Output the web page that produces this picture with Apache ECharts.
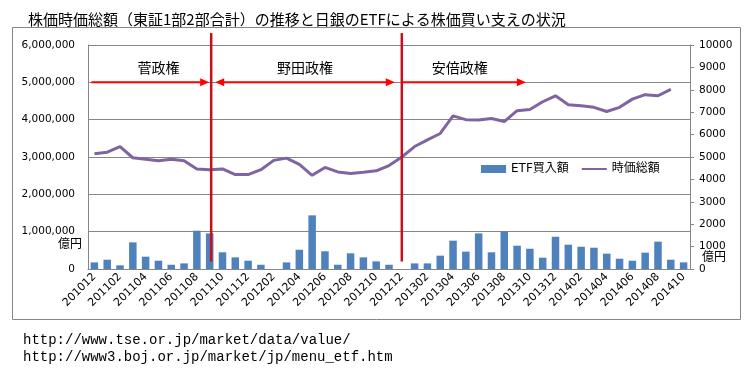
<!DOCTYPE html>
<html><head><meta charset="utf-8">
<script src="https://cdn.jsdelivr.net/npm/echarts/dist/echarts.min.js"></script>
<style>html,body{margin:0;padding:0;background:#fff}#c{width:749px;height:372px}</style>
</head><body><div id="c"></div>
<script>
const categories = ['201012','201101','201102','201103','201104','201105','201106','201107','201108','201109','201110','201111','201112',
  '201201','201202','201203','201204','201205','201206','201207','201208','201209','201210','201211','201212',
  '201301','201302','201303','201304','201305','201306','201307','201308','201309','201310','201311','201312',
  '201401','201402','201403','201404','201405','201406','201407','201408','201409','201410'];
// 時価総額 (億円, left axis)
const marketCap = [3090000,3130000,3280000,2980000,2940000,2900000,2940000,2900000,2680000,2660000,2680000,2530000,2530000,
  2660000,2910000,2970000,2800000,2510000,2720000,2600000,2560000,2590000,2630000,2770000,3000000,
  3280000,3460000,3630000,4100000,4000000,3990000,4030000,3950000,4240000,4270000,4480000,4640000,
  4400000,4370000,4330000,4220000,4330000,4550000,4670000,4640000,4810000,null];
// ETF買入額 (億円, right axis)
const etfBuy = [295,415,165,1190,550,370,190,250,1710,1590,745,520,370,
  190,0,295,860,2395,790,190,700,520,340,190,0,
  250,250,595,1265,775,1590,745,1680,1040,905,505,1440,
  1085,995,950,685,460,370,730,1220,415,295];
const leftTicks = {min:0, max:6000000, step:1000000};
const rightTicks = {min:0, max:10000, step:1000};
const eras = [
  {name:'菅政権', from:'201012', to:'201109'},
  {name:'野田政権', from:'201109', to:'201212'},
  {name:'安倍政権', from:'201212', to:'201310'}
];
const titleText = '株価時価総額（東証1部2部合計）の推移と日銀のETFによる株価買い支えの状況';
const sources = ['http://www.tse.or.jp/market/data/value/','http://www3.boj.or.jp/market/jp/menu_etf.htm'];

const FONT = "'DejaVu Sans','Noto Sans CJK JP',sans-serif";
const CJK = "'Noto Sans CJK JP',sans-serif";
const GRID = '#868686';

const chart = echarts.init(document.getElementById('c'), null, {renderer:'canvas'});
chart.setOption({
  animation:false,
  backgroundColor:'#fff',
  title:{text:titleText, left:23, top:7, textStyle:{fontSize:15, fontWeight:'normal', color:'#000', fontFamily:CJK}},
  legend:{
    data:[{name:'ETF買入額', icon:'rect'}, {name:'時価総額', itemStyle:{opacity:0}}],
    left:476, top:158, itemWidth:25, itemHeight:8, itemGap:12,
    textStyle:{fontSize:12, color:'#000', fontFamily:FONT}
  },
  grid:{left:88, right:59, top:45, bottom:103, containLabel:false, outerBoundsMode:'none'},
  xAxis:{
    type:'category', data:categories, boundaryGap:true,
    axisLine:{show:true, lineStyle:{color:GRID}},
    axisTick:{show:false},
    axisLabel:{rotate:45, interval:1, fontSize:11, color:'#000', margin:6, fontFamily:FONT},
    splitLine:{show:false}
  },
  yAxis:[
    {type:'value', min:leftTicks.min, max:leftTicks.max, interval:leftTicks.step, position:'left',
     axisLine:{show:true, lineStyle:{color:GRID}}, axisTick:{show:false},
     splitLine:{show:true, lineStyle:{color:GRID, width:1}},
     axisLabel:{margin:13, fontSize:10.5, color:'#000', fontFamily:FONT,
       formatter:v=>String(v).replace(/\B(?=(\d{3})+(?!\d))/g, ',')}},
    {type:'value', min:rightTicks.min, max:rightTicks.max, interval:rightTicks.step, position:'right',
     axisLine:{show:true, lineStyle:{color:GRID}},
     axisTick:{show:true, length:4, lineStyle:{color:GRID}},
     splitLine:{show:false},
     axisLabel:{margin:9, fontSize:10.5, color:'#000', fontFamily:FONT, formatter:v=>String(v)}}
  ],
  series:[
    {name:'ETF買入額', type:'bar', yAxisIndex:1, data:etfBuy, barWidth:7.5, itemStyle:{color:'#4f81bd'}},
    {name:'時価総額', type:'line', yAxisIndex:0, data:marketCap, symbol:'none', z:3,
     lineStyle:{width:3, color:'#8064a2'}, itemStyle:{color:'#8064a2'}}
  ]
});

const xp = c => chart.convertToPixel({xAxisIndex:0}, categories.indexOf(c));
const yp = v => chart.convertToPixel({yAxisIndex:0}, v);
const RED = '#ff0000', DARKRED = '#c8101c';
const g = [];
g.push({type:'rect', shape:{x:12.5, y:27.5, width:728, height:292}, style:{fill:'none', stroke:GRID, lineWidth:1}, z:0, silent:true});
const ay = yp(5000000), ty = yp(5400000);
const lineTop = yp(6320000), lineBot = yp(200000);
const r1 = xp('201109') + 1.5, r2 = xp('201212');
[r1, r2].forEach(x => g.push({type:'line', shape:{x1:x, y1:lineTop, x2:x, y2:lineBot}, style:{stroke:DARKRED, lineWidth:2.5}, z:50}));
function head(tipX, dir){ // dir 1 = points right
  return {type:'polygon', shape:{points:[[tipX, ay],[tipX - dir*9, ay-4],[tipX - dir*9, ay+4]]}, style:{fill:RED}, z:51};
}
function seg(x1, x2){ return {type:'line', shape:{x1:x1, y1:ay, x2:x2, y2:ay}, style:{stroke:RED, lineWidth:2}, z:51}; }
// 菅
const k0 = xp('201012') - 3, k1 = r1 - 2;
g.push(seg(k0, k1 - 6), head(k1, 1));
// 野田
const n0 = r1 + 4, n1 = r2 - 7;
g.push(seg(n0 + 6, n1 - 6), head(n0, -1), head(n1, 1));
// 安倍
const a0 = r2, a1 = xp('201310') - 4;
g.push(seg(a0, a1 - 6), head(a1, 1));
const eraX = [xp('201105'), (n0 + n1) / 2, (a0 + a1) / 2 - 4];
eras.forEach((e, i) => g.push({type:'text', x:eraX[i], y:ty, style:{text:e.name, fontSize:14, fontFamily:CJK, fill:'#000', align:'center', verticalAlign:'middle'}, z:52}));
g.push({type:'text', x:70, y:243, style:{text:'億円', fontSize:12, fontFamily:CJK, fill:'#000', align:'center', verticalAlign:'middle'}, z:52});
g.push({type:'text', x:714, y:256, style:{text:'億円', fontSize:12, fontFamily:CJK, fill:'#000', align:'center', verticalAlign:'middle'}, z:52});
sources.forEach((s, i) => g.push({type:'text', x:23, y:340 + i*17, style:{text:s, fontSize:14, fontFamily:"'Liberation Mono','DejaVu Sans Mono',monospace", fill:'#000', align:'left', verticalAlign:'middle'}, z:52}));
chart.setOption({graphic:{elements:g}});
</script>
</body></html>
